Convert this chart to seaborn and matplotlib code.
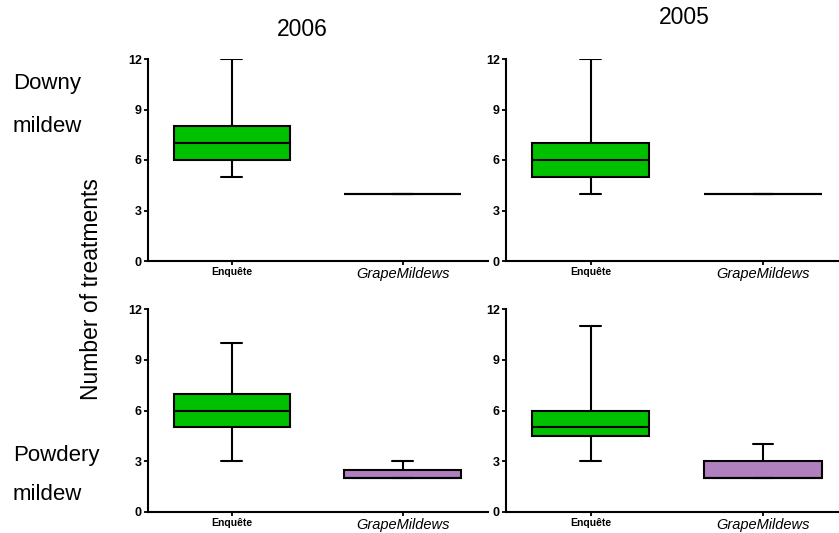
import numpy as np
import pandas as pd
import matplotlib
matplotlib.use("Agg")
import matplotlib.pyplot as plt
import seaborn as sns

sns.set_style("ticks")
plt.rcParams['font.family'] = ['Liberation Sans', 'DejaVu Sans']
plt.rcParams['text.color'] = 'black'
plt.rcParams['axes.labelcolor'] = 'black'
plt.rcParams['xtick.color'] = 'black'
plt.rcParams['ytick.color'] = 'black'

# Data: five-number summaries (min, Q1, median, Q3, max)
groups = ["Enquête", "GrapeMildews"]
years = ["2006", "2005"]

downy_2006_enquete = [5, 6, 7, 8, 12]
downy_2006_gm = [4, 4, 4, 4, 4]
downy_2005_enquete = [4, 5, 6, 7, 12]
downy_2005_gm = [4, 4, 4, 4, 4]
powdery_2006_enquete = [3, 5, 6, 7, 10]
powdery_2006_gm = [2, 2, 2, 2.5, 3]
powdery_2005_enquete = [3, 4.5, 5, 6, 11]
powdery_2005_gm = [2, 2, 2, 3, 4]

yticks = [0, 3, 6, 9, 12]

panels = {
    (0, 0): (downy_2006_enquete, downy_2006_gm, "#00C000"),
    (0, 1): (downy_2005_enquete, downy_2005_gm, "#00C000"),
    (1, 0): (powdery_2006_enquete, powdery_2006_gm, "#B07FC0"),
    (1, 1): (powdery_2005_enquete, powdery_2005_gm, "#B07FC0"),
}

fig = plt.figure(figsize=(8.39, 5.33), dpi=100)

W, H = 839, 533
def axrect(x0, x1, ytop, ybot):
    return [x0 / W, 1 - ybot / H, (x1 - x0) / W, (ybot - ytop) / H]

rects = {
    (0, 0): axrect(148, 488, 59, 261),
    (0, 1): axrect(506, 839, 59, 261),
    (1, 0): axrect(148, 488, 309, 512),
    (1, 1): axrect(506, 839, 309, 512),
}
xlims = {0: (-0.49, 1.5), 1: (-0.49, 1.44)}

for (r, c), (enq, gm, gmcolor) in panels.items():
    ax = fig.add_axes(rects[(r, c)])
    df = pd.DataFrame({
        "group": [groups[0]] * len(enq) + [groups[1]] * len(gm),
        "value": enq + gm,
    })
    sns.boxplot(data=df, x="group", y="value", hue="group", order=groups,
                palette={groups[0]: "#00C000", groups[1]: gmcolor},
                saturation=1, width=0.68, whis=(0, 100), showfliers=False,
                linecolor="black", linewidth=1.5, legend=False, ax=ax,
                capwidths=0.12)
    ax.set_ylim(0, 12)
    ax.set_xlim(*xlims[c])
    ax.set_yticks(yticks)
    ax.set_yticklabels([str(t) for t in yticks], fontsize=9, fontweight="bold")
    ax.set_xlabel("")
    ax.set_ylabel("")
    ax.set_xticks([0, 1])
    ax.set_xticklabels(groups)
    lbls = ax.get_xticklabels()
    lbls[0].set_fontweight("bold"); lbls[0].set_fontsize(7.5)
    lbls[1].set_fontstyle("italic"); lbls[1].set_fontsize(10.5)
    ax.tick_params(axis="both", length=3, width=1.3, pad=1.5, colors="black")
    for s in ["left", "bottom"]:
        ax.spines[s].set_linewidth(1.5)
        ax.spines[s].set_color("black")
    for s in ["top", "right"]:
        ax.spines[s].set_visible(False)
    ax.set_facecolor("none")

fig.text(302 / W, 1 - 29 / H, years[0], ha="center", va="center", fontsize=16.5)
fig.text(684 / W, 1 - 17 / H, years[1], ha="center", va="center", fontsize=16.5)
fig.text(13 / W, 1 - 84 / H, "Downy", ha="left", va="center", fontsize=16)
fig.text(13 / W, 1 - 126 / H, "mildew", ha="left", va="center", fontsize=16)
fig.text(13 / W, 1 - 455 / H, "Powdery", ha="left", va="center", fontsize=16)
fig.text(13 / W, 1 - 494 / H, "mildew", ha="left", va="center", fontsize=16)
fig.text(91 / W, 1 - 289 / H, "Number of treatments", ha="center", va="center",
         rotation=90, fontsize=16.5)

fig.savefig("out.png", dpi=100)
